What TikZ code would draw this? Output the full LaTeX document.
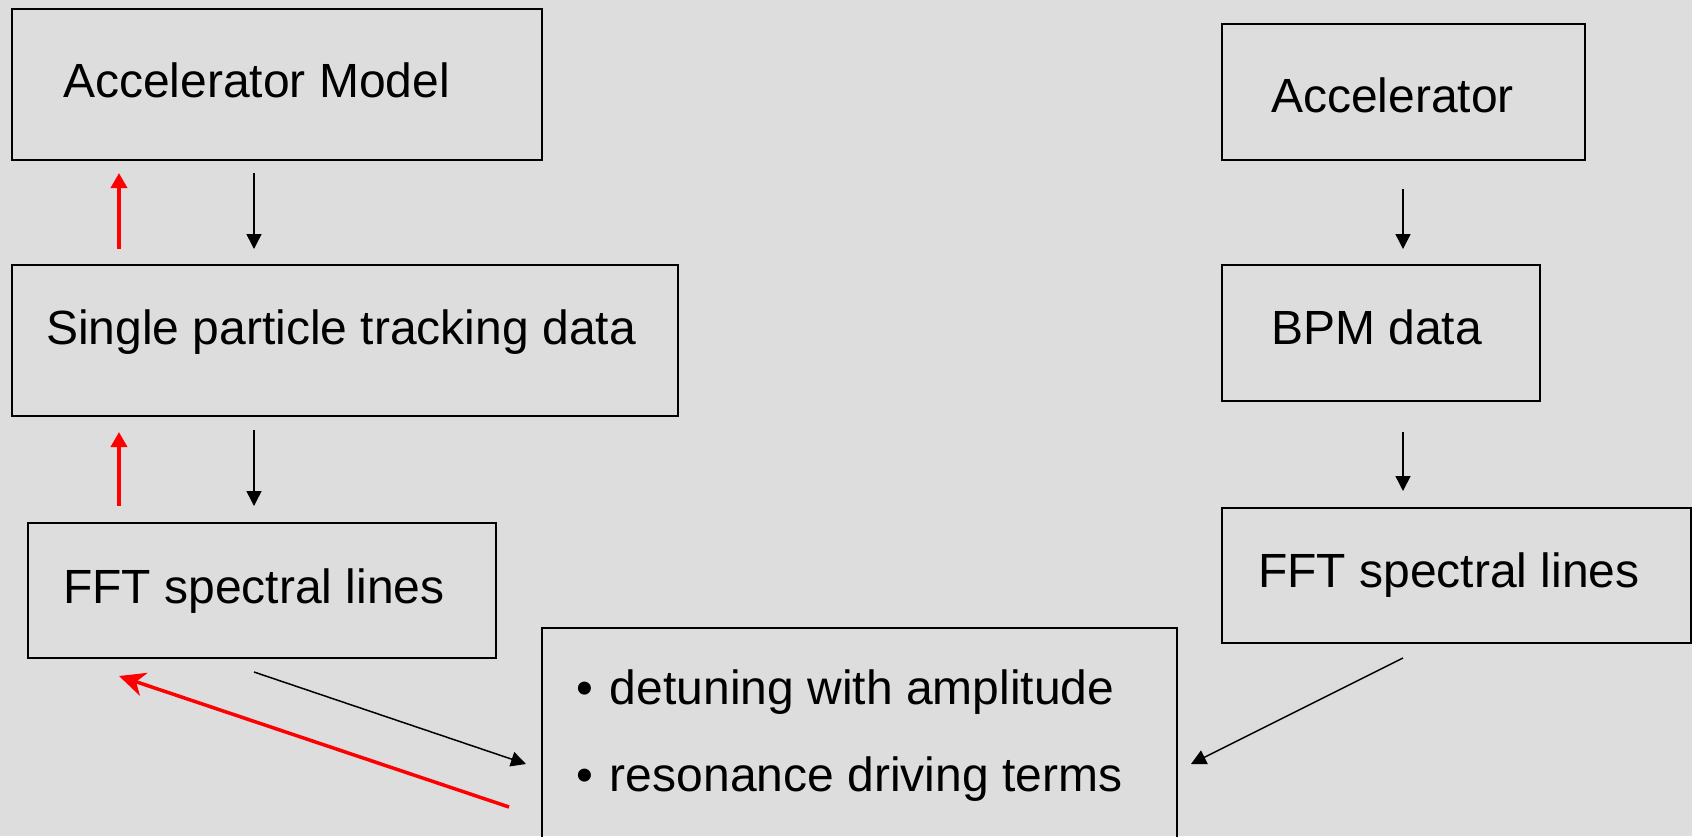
\documentclass[tikz,border=0pt]{standalone}
\usepackage{fontspec}
\setmainfont{Liberation Sans}
\usetikzlibrary{arrows.meta}
\definecolor{bgc}{HTML}{DDDDDD}
\definecolor{redc}{HTML}{FF0000}
\begin{document}
\begin{tikzpicture}[x=1pt,y=-1pt,
  box/.style={draw=black,line width=1.8pt,anchor=north west,inner sep=0pt},
  lbl/.style={anchor=base west,inner sep=0pt,font=\fontsize{48}{58}\selectfont},
  blk/.style={draw=black,line width=1.5pt,-{Triangle[length=15pt,width=15pt]}},
  redup/.style={draw=redc,line width=3.5pt,-{Triangle[length=15pt,width=16pt]}},
  reddiag/.style={draw=redc,line width=3.5pt,-{Stealth[length=26pt,width=24pt,inset=8pt]}}]
\fill[bgc] (0,0) rectangle (1692,836);
\useasboundingbox (0,0) rectangle (1692,836);
\clip (0,0) rectangle (1692,836);
% boxes
\node[box,minimum width=530pt,minimum height=151pt] (model) at (11,8) {};
\node[box,minimum width=666pt,minimum height=151pt] (track) at (11,264) {};
\node[box,minimum width=468pt,minimum height=135pt] (fftl) at (27,522) {};
\node[box,minimum width=635pt,minimum height=240pt] (res) at (541,627) {};
\node[box,minimum width=363pt,minimum height=136pt] (acc) at (1221,23) {};
\node[box,minimum width=318pt,minimum height=136pt] (bpm) at (1221,264) {};
\node[box,minimum width=469pt,minimum height=135pt] (fftr) at (1221,507) {};
% texts
\node[lbl] (tmodel) at (63,97) {Accelerator Model};
\node[lbl] (ttrack) at (46,344) {Single particle tracking data};
\node[lbl] (tfftl) at (63,603) {FFT spectral lines};
\node[lbl] (tacc) at (1271,112) {Accelerator};
\node[lbl] (tbpm) at (1271,344) {BPM data};
\node[lbl] (tfftr) at (1258,587) {FFT spectral lines};
\node[lbl] (tdet) at (576,704) {•\hspace{17pt}detuning with amplitude};
\node[lbl] (tres) at (576,791) {•\hspace{17pt}resonance driving terms};
% connector coordinates
\coordinate (r1s) at (119,249); \coordinate (r1e) at (119,173);
\coordinate (b1s) at (254,173); \coordinate (b1e) at (254,249);
\coordinate (r2s) at (119,506); \coordinate (r2e) at (119,432);
\coordinate (b2s) at (254,430); \coordinate (b2e) at (254,506);
\coordinate (b3s) at (1403,189); \coordinate (b3e) at (1403,249);
\coordinate (b4s) at (1403,432); \coordinate (b4e) at (1403,491);
\coordinate (d1s) at (254,672); \coordinate (d1e) at (526,764);
\coordinate (d2s) at (509,807); \coordinate (d2e) at (119,676);
\coordinate (d3s) at (1403,658); \coordinate (d3e) at (1191,764);
% connectors
\draw[redup] (r1s) -- (r1e);
\draw[blk] (b1s) -- (b1e);
\draw[redup] (r2s) -- (r2e);
\draw[blk] (b2s) -- (b2e);
\draw[blk] (b3s) -- (b3e);
\draw[blk] (b4s) -- (b4e);
\draw[blk] (d1s) -- (d1e);
\draw[reddiag] (d2s) -- (d2e);
\draw[blk] (d3s) -- (d3e);
\end{tikzpicture}
\end{document}
